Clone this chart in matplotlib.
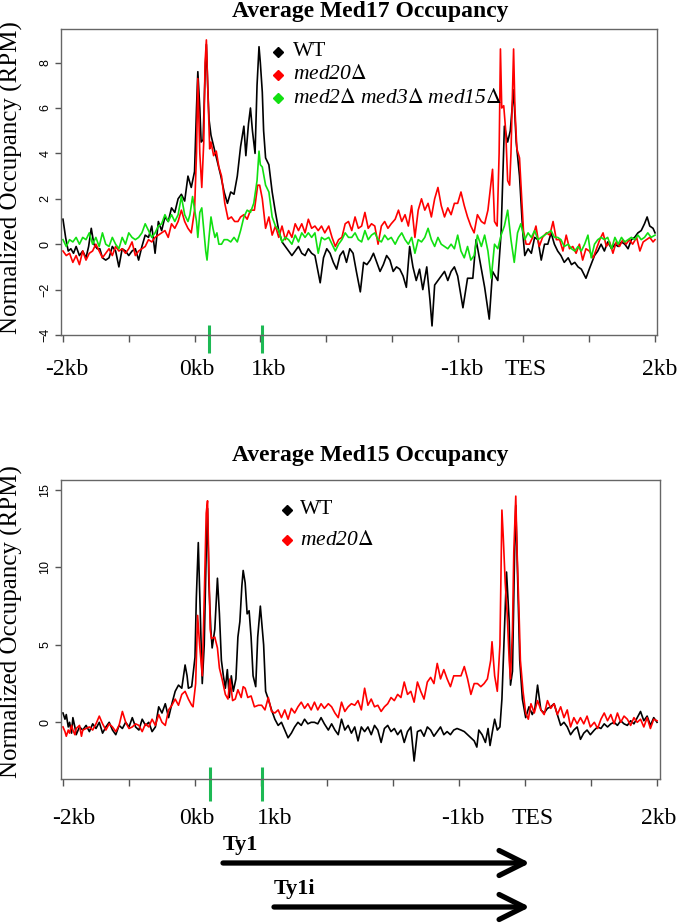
import matplotlib
matplotlib.use("Agg")
import matplotlib.pyplot as plt
import matplotlib.transforms as mtransforms

plt.rcParams["font.family"] = "serif"
plt.rcParams["font.serif"] = ["Liberation Serif", "DejaVu Serif"]
plt.rcParams["mathtext.fontset"] = "stix"

W, H = 678, 923

# x is in tick units: 0 = -2kb, 2 = 0kb (start), 7 = TES, 9 = +2kb
XTICKS = list(range(10))
GREEN_MARK_X = [2.22, 3.02]

MED17_XLABELS = ["-2kb", "0kb", "1kb", "-1kb", "TES", "2kb"]
MED17_XLABEL_POS = [0.06, 2.04, 3.12, 6.06, 7.04, 9.07]
MED15_XLABELS = ["-2kb", "0kb", "1kb", "-1kb", "TES", "2kb"]
MED15_XLABEL_POS = [0.17, 2.03, 3.21, 6.06, 7.12, 9.02]

MED17_YTICKS = [-4, -2, 0, 2, 4, 6, 8]
MED15_YTICKS = [0, 5, 10, 15]

# strain names: italic text, upright Delta
MED17_LEGEND = ["WT", r"med20$\Delta$", r"med2$\Delta$ med3$\Delta$ med15$\Delta$"]
MED15_LEGEND = ["WT", r"med20$\Delta$"]
COLORS = ["#000000", "#ff0000", "#11e011"]

# ---- Med17 occupancy, (position, RPM) ----
MED17_WT = [
    (0.00, 1.1), (0.04, 0.3), (0.08, -0.3), (0.12, -0.2), (0.16, -0.4), (0.20, -0.1), (0.25, -0.5),
    (0.30, -0.3), (0.35, -0.6), (0.39, -0.1), (0.43, 0.7), (0.47, 0.0), (0.52, -0.2), (0.56, -0.2),
    (0.60, -0.6), (0.65, -0.7), (0.70, -0.6), (0.75, -0.1), (0.80, -0.3), (0.85, -1.0), (0.90, -0.2),
    (0.95, -0.3), (1.00, -0.5), (1.05, -0.3), (1.10, -0.2), (1.15, -0.7), (1.20, -0.1), (1.25, 0.4),
    (1.30, 0.3), (1.35, 0.8), (1.40, -0.4), (1.45, 1.0), (1.50, 0.6), (1.55, 1.2), (1.60, 1.0),
    (1.65, 1.6), (1.70, 1.4), (1.75, 2.0), (1.80, 2.2), (1.85, 1.9), (1.90, 3.0), (1.95, 2.5),
    (2.00, 3.2), (2.03, 6.0), (2.05, 7.6), (2.08, 6.0), (2.10, 4.5), (2.13, 4.6), (2.16, 7.5),
    (2.18, 8.8), (2.20, 7.0), (2.22, 5.5), (2.25, 4.8), (2.30, 4.2), (2.35, 3.6), (2.40, 3.0),
    (2.45, 2.3), (2.50, 1.8), (2.55, 2.3), (2.60, 2.2), (2.65, 3.0), (2.70, 4.3), (2.75, 5.2),
    (2.78, 3.9), (2.82, 5.3), (2.85, 6.0), (2.88, 5.0), (2.92, 4.0), (2.95, 7.0), (2.98, 8.7),
    (3.00, 8.0), (3.03, 6.7), (3.05, 5.0), (3.08, 3.8), (3.13, 3.5), (3.18, 2.3), (3.23, 1.4),
    (3.28, 0.6), (3.33, 0.1), (3.38, -0.1), (3.43, -0.3), (3.48, -0.5), (3.53, -0.3), (3.58, -0.1),
    (3.63, -0.4), (3.68, -0.5), (3.73, -0.2), (3.78, -0.4), (3.83, -0.5), (3.91, -1.7), (3.96, -0.6),
    (4.01, -0.2), (4.06, -0.4), (4.11, -0.8), (4.16, -1.1), (4.21, -0.5), (4.26, -0.3), (4.31, -0.8),
    (4.36, -0.2), (4.41, -0.4), (4.46, -1.2), (4.52, -2.1), (4.57, -0.8), (4.62, -0.9), (4.67, -0.7),
    (4.72, -0.4), (4.77, -0.8), (4.82, -1.2), (4.87, -0.9), (4.92, -0.5), (4.97, -0.7), (5.02, -1.2),
    (5.07, -1.0), (5.12, -1.1), (5.17, -1.4), (5.22, -1.9), (5.27, -0.1), (5.32, -1.0), (5.37, -1.6),
    (5.42, -1.1), (5.47, -2.0), (5.53, -1.0), (5.58, -2.5), (5.61, -3.6), (5.65, -1.8), (5.70, -1.6),
    (5.75, -1.4), (5.80, -1.2), (5.85, -1.6), (5.90, -1.2), (5.95, -1.0), (6.00, -1.4), (6.08, -2.8),
    (6.15, -1.5), (6.23, -1.5), (6.28, 0.2), (6.33, -0.6), (6.41, -1.9), (6.48, -3.3), (6.53, -1.2),
    (6.61, -1.6), (6.66, 0.5), (6.71, 5.2), (6.76, 4.5), (6.80, 5.0), (6.85, 6.8), (6.89, 4.5),
    (6.94, 3.0), (6.99, 0.5), (7.02, -0.5), (7.07, -0.2), (7.12, -0.4), (7.17, 0.3), (7.22, 0.2),
    (7.27, -0.7), (7.32, 0.0), (7.37, 0.0), (7.42, 0.5), (7.47, 0.0), (7.52, -0.3), (7.57, -0.5),
    (7.62, -0.8), (7.68, -0.6), (7.73, -0.9), (7.78, -0.8), (7.83, -1.0), (7.88, -1.1), (7.95, -1.5),
    (8.00, -1.1), (8.08, -0.5), (8.13, -0.3), (8.18, 0.0), (8.23, -0.3), (8.28, 0.1), (8.34, -0.2),
    (8.39, 0.0), (8.44, -0.1), (8.49, 0.1), (8.54, 0.0), (8.59, -0.2), (8.64, 0.2), (8.69, 0.3),
    (8.74, 0.5), (8.79, 0.6), (8.84, 0.9), (8.88, 1.2), (8.92, 0.8), (8.97, 0.7), (9.00, 0.5),
]
MED17_MED20 = [
    (0.00, -0.3), (0.05, -0.5), (0.10, -0.4), (0.15, -0.8), (0.20, -0.5), (0.25, -0.9), (0.30, -0.3),
    (0.35, -0.7), (0.40, -0.4), (0.45, -0.3), (0.50, 0.0), (0.55, -0.3), (0.60, -0.6), (0.65, -0.4),
    (0.70, -0.2), (0.75, -0.5), (0.80, -0.1), (0.85, -0.3), (0.90, -0.2), (0.95, -0.4), (1.00, -0.2),
    (1.05, 0.1), (1.10, -0.5), (1.15, -0.3), (1.20, -0.2), (1.25, -0.1), (1.30, 0.2), (1.35, 0.1),
    (1.40, 0.3), (1.45, 0.4), (1.50, 0.5), (1.55, 0.6), (1.60, 0.3), (1.65, 0.9), (1.70, 0.7),
    (1.75, 1.0), (1.80, 1.5), (1.85, 1.0), (1.90, 0.7), (1.95, 0.5), (2.00, 1.5), (2.03, 4.0),
    (2.05, 7.3), (2.08, 4.0), (2.11, 2.5), (2.14, 4.5), (2.16, 8.0), (2.18, 9.0), (2.20, 7.0),
    (2.23, 4.2), (2.25, 4.5), (2.29, 3.9), (2.33, 4.1), (2.37, 3.4), (2.41, 3.0), (2.46, 1.8),
    (2.51, 1.1), (2.56, 1.2), (2.61, 1.0), (2.66, 1.0), (2.70, 1.2), (2.75, 1.3), (2.80, 1.1),
    (2.85, 1.5), (2.91, 1.5), (2.96, 2.6), (2.99, 2.6), (3.03, 2.0), (3.08, 0.7), (3.13, 1.2),
    (3.18, 0.4), (3.23, 0.8), (3.28, 0.3), (3.33, 0.8), (3.38, 0.2), (3.43, 0.6), (3.48, 0.3),
    (3.53, 0.9), (3.58, 0.6), (3.63, 0.9), (3.68, 0.5), (3.73, 1.1), (3.78, 0.7), (3.83, 0.8),
    (3.88, 0.6), (3.93, 0.8), (3.98, 0.5), (4.04, 0.8), (4.09, 0.3), (4.14, -0.1), (4.19, 0.2),
    (4.24, 0.3), (4.29, 0.9), (4.34, 1.0), (4.39, 0.6), (4.44, 1.2), (4.49, 0.7), (4.54, 0.8),
    (4.59, 1.4), (4.64, 0.7), (4.69, 0.9), (4.74, 0.8), (4.79, 0.0), (4.84, 0.8), (4.89, 1.0),
    (4.94, 0.7), (4.99, 0.9), (5.05, 1.1), (5.10, 1.5), (5.15, 1.0), (5.20, 1.3), (5.25, 0.8),
    (5.30, 1.7), (5.35, 0.3), (5.40, 1.5), (5.45, 2.0), (5.50, 1.5), (5.55, 1.8), (5.60, 1.2),
    (5.65, 2.0), (5.70, 2.5), (5.75, 1.7), (5.80, 1.2), (5.85, 1.6), (5.90, 1.3), (5.95, 1.8),
    (6.00, 1.8), (6.05, 2.3), (6.10, 1.7), (6.15, 1.2), (6.20, 0.8), (6.25, 0.5), (6.30, 1.3),
    (6.36, 1.0), (6.41, 0.9), (6.46, 1.5), (6.51, 2.8), (6.53, 3.3), (6.56, 1.0), (6.60, 0.8),
    (6.63, 4.0), (6.65, 8.6), (6.67, 6.0), (6.70, 6.1), (6.73, 5.0), (6.76, 2.8), (6.79, 2.6),
    (6.81, 4.0), (6.85, 8.6), (6.87, 6.0), (6.90, 4.2), (6.94, 3.8), (6.97, 2.2), (7.00, 0.6),
    (7.04, 0.0), (7.09, 0.0), (7.14, 0.3), (7.19, 0.8), (7.24, -0.1), (7.29, 0.3), (7.35, 0.5),
    (7.40, 0.4), (7.45, 1.0), (7.50, 0.2), (7.55, 0.2), (7.60, -0.3), (7.65, 0.4), (7.70, -0.2),
    (7.75, -0.1), (7.80, -0.4), (7.85, 0.0), (7.90, -0.7), (7.95, -0.2), (8.00, -0.3), (8.06, -0.6),
    (8.11, -0.2), (8.16, 0.2), (8.21, 0.5), (8.26, -0.1), (8.31, 0.1), (8.36, -0.4), (8.41, 0.1),
    (8.46, -0.1), (8.51, 0.2), (8.56, 0.0), (8.61, 0.2), (8.66, 0.0), (8.72, 0.3), (8.77, -0.3),
    (8.82, 0.1), (8.87, 0.2), (8.92, 0.3), (8.97, 0.1), (9.00, 0.2),
]
MED17_TRIPLE = [
    (0.00, 0.2), (0.05, -0.1), (0.10, 0.2), (0.15, 0.1), (0.20, 0.3), (0.25, 0.0), (0.30, 0.3),
    (0.35, 0.2), (0.40, 0.5), (0.45, 0.0), (0.50, 0.3), (0.55, -0.1), (0.60, 0.5), (0.65, 0.0),
    (0.70, -0.1), (0.75, 0.3), (0.80, 0.0), (0.85, -0.2), (0.90, 0.3), (0.95, 0.0), (1.00, 0.5),
    (1.05, 0.3), (1.10, 0.2), (1.15, 0.3), (1.20, 0.5), (1.25, 0.9), (1.30, 0.6), (1.35, 0.3),
    (1.40, 0.5), (1.45, 0.8), (1.50, 0.9), (1.55, 1.3), (1.60, 1.0), (1.65, 1.3), (1.70, 1.0),
    (1.75, 1.3), (1.80, 2.1), (1.85, 1.3), (1.90, 1.0), (1.93, 1.3), (1.97, 2.1), (2.03, 1.0),
    (2.05, 0.3), (2.08, 1.4), (2.11, 1.6), (2.15, 0.3), (2.17, -0.3), (2.19, -0.7), (2.22, 0.3),
    (2.25, 1.2), (2.28, 0.7), (2.31, 0.3), (2.34, 0.5), (2.37, 0.0), (2.41, 0.0), (2.45, 0.2),
    (2.50, 0.2), (2.55, 0.1), (2.60, 0.3), (2.65, 0.1), (2.70, 0.6), (2.75, 1.2), (2.80, 1.5),
    (2.85, 1.4), (2.90, 1.8), (2.95, 2.8), (2.98, 4.1), (3.00, 3.5), (3.03, 3.4), (3.08, 2.6),
    (3.13, 2.3), (3.18, 1.2), (3.23, 0.8), (3.28, 0.6), (3.33, 0.1), (3.38, 0.3), (3.43, 0.2),
    (3.48, 0.0), (3.53, 0.4), (3.58, 0.1), (3.63, 0.5), (3.68, 0.3), (3.73, 0.5), (3.78, 0.3),
    (3.83, 0.5), (3.88, -0.4), (3.93, 0.3), (3.98, 0.2), (4.04, 0.3), (4.09, 0.0), (4.14, -0.3),
    (4.19, 0.0), (4.24, 0.2), (4.29, 0.5), (4.34, 0.3), (4.39, 0.3), (4.44, 0.5), (4.49, 0.2),
    (4.54, 0.1), (4.59, 0.6), (4.64, 0.2), (4.69, 0.4), (4.74, 0.5), (4.79, 0.2), (4.84, 0.1),
    (4.89, 0.4), (4.94, 0.2), (4.99, 0.3), (5.05, 0.0), (5.10, 0.3), (5.15, 0.5), (5.20, 0.2),
    (5.25, 0.0), (5.30, 0.3), (5.35, -0.4), (5.40, 0.2), (5.45, 0.1), (5.50, 0.3), (5.55, 0.7),
    (5.60, 0.2), (5.65, -0.1), (5.70, 0.3), (5.75, 0.0), (5.80, -0.1), (5.85, -0.2), (5.90, 0.0),
    (5.95, -0.2), (6.00, 0.4), (6.05, -0.3), (6.10, -0.6), (6.15, -0.1), (6.20, -0.7), (6.25, -0.5),
    (6.30, 0.4), (6.36, -0.1), (6.41, 0.4), (6.46, -0.3), (6.51, -1.5), (6.56, 0.0), (6.61, -0.2),
    (6.66, 0.4), (6.71, 0.8), (6.76, 1.5), (6.81, 0.2), (6.86, -0.8), (6.91, 0.5), (6.96, 0.9),
    (7.02, 0.2), (7.07, 0.5), (7.12, 0.3), (7.17, 0.6), (7.22, 0.2), (7.27, 0.3), (7.32, 0.4),
    (7.37, 0.5), (7.42, 0.6), (7.47, 0.3), (7.52, 0.3), (7.57, 0.2), (7.62, -0.1), (7.68, 0.0),
    (7.73, -0.2), (7.78, -0.3), (7.83, -0.1), (7.88, -0.3), (7.93, 0.0), (7.98, 0.4), (8.03, -0.6),
    (8.08, 0.0), (8.13, 0.2), (8.18, 0.3), (8.23, 0.2), (8.28, 0.3), (8.34, -0.2), (8.39, 0.3),
    (8.44, 0.0), (8.49, 0.3), (8.54, 0.1), (8.59, 0.2), (8.64, 0.3), (8.69, 0.2), (8.74, 0.4),
    (8.79, 0.2), (8.84, 0.3), (8.89, 0.5), (8.94, 0.3), (9.00, 0.4),
]

# ---- Med15 occupancy, (position, RPM) ----
MED15_WT = [
    (0.00, 0.6), (0.03, 0.2), (0.05, 0.5), (0.08, -0.3), (0.10, 0.0), (0.13, -0.7), (0.15, 0.3),
    (0.18, -0.3), (0.20, -0.8), (0.25, -0.3), (0.30, -0.5), (0.35, -0.2), (0.40, -0.6), (0.45, -0.1),
    (0.50, -0.4), (0.55, 0.0), (0.60, -0.7), (0.65, -0.3), (0.70, 0.0), (0.75, -0.5), (0.80, -0.8),
    (0.85, -0.2), (0.90, -0.4), (0.95, 0.0), (1.00, -0.3), (1.05, 0.3), (1.10, -0.3), (1.15, -0.5),
    (1.20, 0.2), (1.25, -0.2), (1.30, 0.0), (1.35, -0.6), (1.40, -0.3), (1.45, 1.0), (1.50, 0.6),
    (1.55, 1.2), (1.60, 0.3), (1.65, 1.2), (1.70, 2.0), (1.75, 2.4), (1.80, 2.2), (1.85, 3.7),
    (1.88, 3.0), (1.90, 2.2), (1.95, 2.3), (2.00, 4.2), (2.02, 8.0), (2.05, 11.6), (2.08, 7.0),
    (2.11, 2.5), (2.14, 5.0), (2.17, 11.0), (2.19, 13.8), (2.21, 9.0), (2.24, 6.0), (2.26, 4.8),
    (2.30, 6.0), (2.34, 9.3), (2.37, 7.0), (2.40, 4.0), (2.43, 3.0), (2.46, 2.2), (2.49, 3.4),
    (2.52, 1.6), (2.55, 3.0), (2.58, 2.0), (2.62, 2.8), (2.65, 5.5), (2.68, 6.5), (2.71, 8.8),
    (2.73, 9.8), (2.76, 9.0), (2.79, 7.0), (2.82, 7.2), (2.85, 5.5), (2.88, 3.0), (2.92, 2.3),
    (2.95, 5.5), (2.99, 7.5), (3.04, 5.0), (3.07, 2.0), (3.11, 1.5), (3.16, 0.8), (3.21, 0.2),
    (3.26, -0.2), (3.31, 0.0), (3.36, -0.5), (3.41, -1.0), (3.46, -0.7), (3.51, -0.3), (3.56, 0.0),
    (3.61, -0.2), (3.66, 0.2), (3.71, -0.1), (3.76, 0.0), (3.81, 0.0), (3.86, -0.1), (3.91, 0.3),
    (3.96, -0.1), (4.02, -0.5), (4.07, -0.1), (4.12, -0.5), (4.17, -0.8), (4.22, 0.2), (4.27, -0.5),
    (4.32, -0.2), (4.37, -0.7), (4.42, -0.3), (4.47, -1.2), (4.52, -0.3), (4.57, -0.6), (4.62, -0.3),
    (4.67, -0.8), (4.72, -0.2), (4.77, -0.5), (4.82, -1.3), (4.87, -0.4), (4.92, -0.2), (4.97, -0.6),
    (5.02, -0.4), (5.07, -0.8), (5.12, -0.5), (5.17, -1.3), (5.22, -0.6), (5.27, -0.3), (5.32, -2.5),
    (5.37, -0.6), (5.42, -0.5), (5.47, -0.9), (5.52, -0.3), (5.57, -0.5), (5.62, -0.9), (5.67, -0.6),
    (5.72, -0.3), (5.77, -0.8), (5.82, -0.6), (5.87, -0.8), (5.92, -0.5), (5.97, -0.4), (6.03, -0.5),
    (6.08, -0.6), (6.13, -0.8), (6.18, -1.0), (6.23, -1.2), (6.27, -1.6), (6.30, -0.5), (6.35, -0.8),
    (6.40, -1.3), (6.44, -0.4), (6.47, -1.5), (6.51, -0.5), (6.54, 0.2), (6.58, -0.5), (6.62, -0.3),
    (6.65, 1.5), (6.68, 5.0), (6.72, 9.7), (6.76, 6.5), (6.78, 2.4), (6.81, 3.3), (6.84, 10.5),
    (6.86, 14.0), (6.89, 9.0), (6.92, 4.0), (6.96, 1.5), (7.01, 0.3), (7.06, 1.0), (7.11, 0.5),
    (7.15, 0.9), (7.19, 2.4), (7.24, 0.8), (7.29, 0.6), (7.34, 0.9), (7.39, 1.0), (7.44, 1.2),
    (7.49, 0.5), (7.54, -0.2), (7.59, 0.0), (7.64, -0.3), (7.69, -0.8), (7.74, -0.5), (7.79, -0.3),
    (7.84, -1.1), (7.89, -0.7), (7.94, -0.5), (7.99, -0.8), (8.05, -0.5), (8.10, -0.3), (8.15, -0.4),
    (8.20, -0.1), (8.25, -0.3), (8.30, -0.1), (8.35, 0.0), (8.40, -0.2), (8.45, 0.1), (8.50, -0.1),
    (8.55, -0.2), (8.60, 0.1), (8.65, -0.1), (8.70, 0.3), (8.75, 0.7), (8.80, 0.1), (8.85, 0.4),
    (8.90, -0.2), (8.95, 0.3), (9.00, 0.0),
]
MED15_MED20 = [
    (0.00, -0.3), (0.03, -0.6), (0.05, -0.9), (0.08, -0.5), (0.10, -0.7), (0.13, -0.2), (0.15, -0.5),
    (0.18, -0.8), (0.20, -0.4), (0.25, -0.2), (0.28, -0.9), (0.30, -0.5), (0.35, -0.4), (0.40, -0.3),
    (0.45, -0.5), (0.50, -0.1), (0.55, 0.4), (0.60, -0.1), (0.65, -0.5), (0.70, -0.1), (0.75, -0.3),
    (0.80, -0.6), (0.85, -0.2), (0.90, 0.7), (0.95, 0.0), (1.00, -0.4), (1.05, -0.3), (1.10, -0.1),
    (1.15, -0.2), (1.20, -0.6), (1.25, -0.1), (1.30, -0.3), (1.35, 0.2), (1.40, -0.2), (1.45, 0.5),
    (1.50, 0.0), (1.55, -0.2), (1.60, 0.8), (1.65, 1.1), (1.70, 1.5), (1.75, 1.1), (1.80, 1.8),
    (1.85, 2.0), (1.90, 1.5), (1.95, 1.1), (1.97, 1.0), (2.01, 2.5), (2.03, 5.5), (2.04, 6.9),
    (2.07, 5.0), (2.11, 3.0), (2.14, 8.0), (2.17, 13.5), (2.19, 14.3), (2.21, 10.0), (2.23, 6.0),
    (2.25, 5.4), (2.30, 5.5), (2.34, 4.8), (2.37, 3.5), (2.41, 2.8), (2.46, 1.8), (2.50, 1.5),
    (2.53, 2.8), (2.57, 1.4), (2.61, 1.5), (2.65, 2.1), (2.70, 1.6), (2.73, 2.3), (2.76, 2.2),
    (2.80, 1.6), (2.85, 1.7), (2.90, 1.0), (2.96, 1.1), (3.01, 1.1), (3.06, 0.8), (3.11, 1.6),
    (3.16, 0.7), (3.21, 0.6), (3.26, 0.8), (3.31, 0.3), (3.36, 0.8), (3.41, 0.2), (3.46, 0.9),
    (3.51, 0.6), (3.56, 1.0), (3.61, 1.3), (3.66, 0.9), (3.71, 1.2), (3.76, 0.8), (3.81, 1.3),
    (3.86, 0.8), (3.91, 1.2), (3.96, 0.9), (4.02, 1.2), (4.07, 1.0), (4.12, 0.6), (4.17, 0.3),
    (4.22, 1.3), (4.27, 0.7), (4.32, 1.0), (4.37, 1.2), (4.42, 1.1), (4.47, 1.4), (4.52, 0.8),
    (4.57, 2.2), (4.62, 1.1), (4.67, 1.5), (4.72, 1.0), (4.77, 1.1), (4.82, 0.7), (4.87, 1.0),
    (4.92, 1.2), (4.97, 1.6), (5.02, 1.4), (5.07, 1.8), (5.12, 1.6), (5.17, 2.6), (5.22, 1.8),
    (5.27, 2.0), (5.32, 1.3), (5.37, 2.6), (5.42, 2.0), (5.47, 1.5), (5.52, 2.6), (5.57, 2.9),
    (5.62, 2.5), (5.67, 3.8), (5.72, 2.8), (5.77, 3.4), (5.82, 2.8), (5.87, 2.3), (5.92, 3.0),
    (5.97, 3.0), (6.03, 3.0), (6.08, 3.6), (6.13, 2.8), (6.18, 1.8), (6.23, 2.5), (6.28, 2.5),
    (6.33, 2.3), (6.38, 2.5), (6.43, 2.8), (6.48, 4.0), (6.50, 5.2), (6.54, 3.0), (6.58, 2.0),
    (6.62, 5.0), (6.65, 13.7), (6.67, 12.0), (6.70, 9.0), (6.73, 7.0), (6.76, 4.0), (6.78, 2.8),
    (6.81, 6.0), (6.83, 11.0), (6.86, 14.6), (6.88, 11.0), (6.91, 7.0), (6.93, 4.0), (6.97, 2.0),
    (7.01, 0.6), (7.05, 0.2), (7.09, 1.2), (7.14, 0.6), (7.19, 1.4), (7.24, 0.8), (7.29, 0.5),
    (7.34, 1.4), (7.39, 0.9), (7.44, 1.2), (7.49, 0.5), (7.54, 1.0), (7.59, 0.3), (7.64, 0.8),
    (7.69, -0.3), (7.74, 0.3), (7.79, -0.1), (7.84, 0.3), (7.89, -0.1), (7.94, 0.4), (7.99, -0.3),
    (8.05, 0.0), (8.10, -0.4), (8.15, 0.2), (8.20, 0.6), (8.25, 0.1), (8.30, 0.5), (8.35, -0.1),
    (8.40, 0.6), (8.45, 0.0), (8.50, 0.4), (8.55, 0.2), (8.60, -0.2), (8.65, 0.3), (8.70, 0.0),
    (8.75, 0.2), (8.80, -0.3), (8.85, 0.3), (8.90, -0.4), (8.95, 0.2), (9.00, 0.1),
]

# Ty1 / Ty1i transcripts drawn under the panels (pixel coords: x0, x1, y)
TRANSCRIPTS = [("Ty1", 223, 530, 863), ("Ty1i", 274, 530, 907)]


def fx(px):
    return px / W


def fy(py):
    return 1 - py / H


def draw_panel(ax, series, legend, ylim, yticks, xlabels, xlabel_pos, xlim,
               lab_y, mark_span, leg_x, leg_rows):
    for data, col in zip(series, COLORS):
        xs, ys = zip(*data)
        ax.plot(xs, ys, color=col, lw=1.2)
    ax.set_xlim(*xlim)
    ax.set_ylim(*ylim)
    ax.set_xticks(XTICKS)
    ax.set_yticks(yticks)
    ax.tick_params(axis="x", length=5, width=1, color="#555555", labelbottom=False)
    ax.tick_params(axis="y", length=4, width=1, color="#555555", labelsize=9,
                   labelrotation=90, pad=3)
    for lab in ax.get_yticklabels():
        lab.set_fontfamily("Liberation Sans")
        lab.set_va("center")
    for sp in ax.spines.values():
        sp.set_color("#666666")
        sp.set_linewidth(1)

    trans = mtransforms.blended_transform_factory(ax.transData, ax.transAxes)
    for txt, xp in zip(xlabels, xlabel_pos):
        ax.text(xp, lab_y, txt, transform=trans, ha="center", va="baseline",
                fontsize=17, clip_on=False)
    for gx in GREEN_MARK_X:
        ax.plot([gx, gx], mark_span, transform=trans, color="#1db954", lw=2.2,
                clip_on=False, solid_capstyle="butt")

    tx, mx = leg_x
    for i, (txt, col, ry) in enumerate(zip(legend, COLORS, leg_rows)):
        ax.plot([mx], [ry], transform=ax.transAxes, marker="D", ms=5.5,
                color=col, ls="none", clip_on=False)
        ax.text(tx, ry, txt, transform=ax.transAxes, ha="left", va="center",
                fontsize=15.5, fontstyle="normal" if i == 0 else "italic")


fig = plt.figure(figsize=(W / 100, H / 100), dpi=100)

ax1 = fig.add_axes([fx(61), fy(335), fx(657) - fx(61), fy(29) - fy(335)])
draw_panel(ax1, [MED17_WT, MED17_MED20, MED17_TRIPLE], MED17_LEGEND,
           (-4.0, 9.48), MED17_YTICKS, MED17_XLABELS, MED17_XLABEL_POS, (-0.03, 9.03),
           -0.131, (0.033, -0.059), (0.389, 0.364), [0.925, 0.850, 0.774])

ax2 = fig.add_axes([fx(61), fy(779), fx(660) - fx(61), fy(480) - fy(779)])
draw_panel(ax2, [MED15_WT, MED15_MED20], MED15_LEGEND,
           (-3.66, 15.64), MED15_YTICKS, MED15_XLABELS, MED15_XLABEL_POS, (-0.03, 9.045),
           -0.15, (0.040, -0.074), (0.399, 0.377), [0.900, 0.799])

fig.text(fx(370), fy(17), "Average Med17 Occupancy", ha="center", va="baseline",
         fontsize=17, fontweight="bold")
fig.text(fx(370), fy(461), "Average Med15 Occupancy", ha="center", va="baseline",
         fontsize=17, fontweight="bold")
fig.text(fx(11), fy(178), "Normalized Occupancy (RPM)", rotation=90,
         ha="center", va="center", fontsize=18)
fig.text(fx(11), fy(622), "Normalized Occupancy (RPM)", rotation=90,
         ha="center", va="center", fontsize=18)

# transcript arrows in pixel space
ov = fig.add_axes([0, 0, 1, 1])
ov.set_xlim(0, W)
ov.set_ylim(H, 0)
ov.axis("off")
ov.patch.set_visible(False)
for name, x0, x1, y in TRANSCRIPTS:
    ov.annotate("", xy=(x1, y), xytext=(x0, y),
                arrowprops=dict(arrowstyle="->,head_length=0.9,head_width=0.45",
                                mutation_scale=20, lw=3.8, color="black",
                                shrinkA=0, shrinkB=0))
    ov.text(x0, y - 13, name, ha="left", va="baseline", fontsize=16,
            fontweight="bold")

fig.savefig("out.png", dpi=100)
